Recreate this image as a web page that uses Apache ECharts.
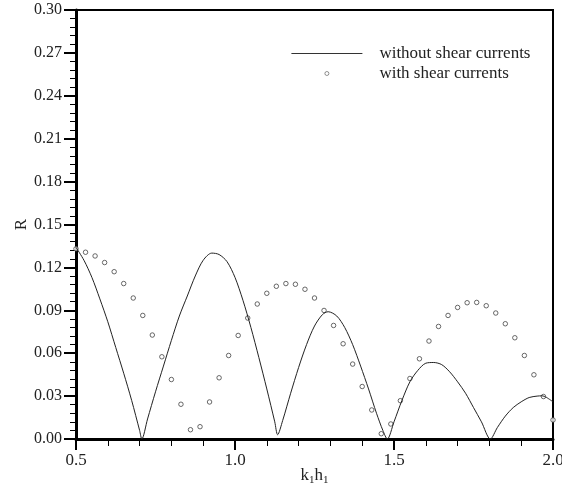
<!DOCTYPE html>
<html>
<head>
<meta charset="utf-8">
<script src="https://cdn.jsdelivr.net/npm/echarts@6/dist/echarts.min.js"></script>
<style>
  html, body { margin: 0; padding: 0; background: #fff; }
  #main { width: 562px; height: 483px; }
</style>
</head>
<body>
<div id="main"></div>
<script>
// without shear currents (solid line)
const lineX = [0.50, 0.525, 0.55, 0.575, 0.60, 0.625, 0.65, 0.675, 0.70, 0.707,
  0.725, 0.75, 0.775, 0.80, 0.825, 0.85, 0.875, 0.90, 0.927, 0.95, 0.975, 1.00,
  1.025, 1.05, 1.075, 1.10, 1.125, 1.134,
  1.15, 1.175, 1.20, 1.225, 1.25, 1.275, 1.293, 1.32, 1.345, 1.37, 1.395, 1.42,
  1.445, 1.465, 1.479,
  1.50, 1.525, 1.55, 1.575, 1.60, 1.625, 1.65, 1.675, 1.70, 1.725, 1.75, 1.775, 1.803,
  1.825, 1.85, 1.875, 1.90, 1.925, 1.95, 1.965, 1.98, 2.00];
const lineR = [0.134, 0.125, 0.113, 0.098, 0.082, 0.064, 0.046, 0.027, 0.006, 0.0,
  0.014, 0.033, 0.051, 0.069, 0.086, 0.100, 0.114, 0.125, 0.130, 0.129, 0.124, 0.113,
  0.097, 0.078, 0.057, 0.035, 0.012, 0.003,
  0.013, 0.032, 0.050, 0.066, 0.079, 0.087, 0.089, 0.086, 0.078, 0.066, 0.051, 0.035,
  0.018, 0.006, 0.0,
  0.012, 0.027, 0.040, 0.048, 0.053, 0.0535, 0.052, 0.047, 0.040, 0.032, 0.022, 0.012, 0.0,
  0.008, 0.016, 0.022, 0.026, 0.029, 0.030, 0.0302, 0.029, 0.026];

// with shear currents (circles)
const dotX = [0.50, 0.53, 0.56, 0.59, 0.62, 0.65, 0.68, 0.71, 0.74, 0.77, 0.80,
  0.83, 0.86, 0.89, 0.92, 0.95, 0.98, 1.01, 1.04, 1.07, 1.10, 1.13, 1.16, 1.19,
  1.22, 1.25, 1.28, 1.31, 1.34, 1.37, 1.40, 1.43, 1.46, 1.49, 1.52, 1.55, 1.58,
  1.61, 1.64, 1.67, 1.70, 1.73, 1.76, 1.79, 1.82, 1.85, 1.88, 1.91, 1.94, 1.97, 2.00];
const dotR = [0.133, 0.1306, 0.128, 0.1234, 0.117, 0.1087, 0.0986, 0.0864, 0.0727,
  0.0575, 0.0416, 0.0243, 0.0065, 0.0086, 0.0259, 0.0428, 0.0584, 0.0724, 0.0846,
  0.0944, 0.1019, 0.1068, 0.1087, 0.1082, 0.1047, 0.0986, 0.0899, 0.0794, 0.0666,
  0.0524, 0.0367, 0.0203, 0.0037, 0.0105, 0.0268, 0.0423, 0.0561, 0.0685, 0.0787,
  0.0864, 0.0920, 0.0953, 0.0955, 0.0932, 0.0881, 0.0806, 0.0708, 0.0584, 0.0449,
  0.0297, 0.0133];

const nameLine = "without shear currents";
const nameDots = "with shear currents";

const font = "'Liberation Serif', 'DejaVu Serif', serif";

const chart = echarts.init(document.getElementById("main"));
chart.setOption({
  animation: false,
  grid: {
    left: 76, right: 9, top: 10, bottom: 44,
    outerBoundsMode: "none",
    containLabel: false,
    show: true, borderColor: "#000", borderWidth: 2
  },
  legend: {
    orient: "vertical",
    left: 286, top: 40,
    itemGap: 3,
    itemWidth: 71, itemHeight: 14,
    textStyle: { fontFamily: font, fontSize: 17, color: "#222", padding: [0, 0, 0, 12] },
    data: [
      {
        name: nameLine,
        icon: "path://M0,6.6L71,6.6L71,7.4L0,7.4Z",
        itemStyle: { color: "#333", borderWidth: 0 }
      },
      {
        name: nameDots,
        icon: "path://M0,0M71,14M37.5,7A2,2,0,1,1,33.5,7A2,2,0,1,1,37.5,7Z",
        itemStyle: { color: "#fff", borderColor: "#555", borderWidth: 0.8 }
      }
    ]
  },
  xAxis: {
    type: "value",
    min: 0.5, max: 2.0, interval: 0.5,
    name: "k{s|1}h{s|1}",
    nameLocation: "middle",
    nameGap: 27,
    nameMoveOverlap: false,
    nameTextStyle: {
      fontFamily: font, fontSize: 17, color: "#222",
      rich: { s: { fontFamily: font, fontSize: 11, verticalAlign: "bottom", padding: [9, 0, 0, 0] } }
    },
    axisLine: { lineStyle: { color: "#000", width: 3 } },
    axisTick: { length: 11, lineStyle: { color: "#000", width: 2 } },
    minorTick: { show: true, splitNumber: 5, length: 7, lineStyle: { color: "#000", width: 1 } },
    splitLine: { show: false },
    axisLabel: {
      margin: 13, fontFamily: font, fontSize: 17, color: "#222",
      formatter: v => v.toFixed(1)
    }
  },
  yAxis: {
    type: "value",
    min: 0, max: 0.30, interval: 0.03,
    name: "R",
    nameLocation: "middle",
    nameRotate: 90,
    nameGap: 46,
    nameMoveOverlap: false,
    nameTextStyle: { fontFamily: font, fontSize: 17, color: "#222" },
    axisLine: { show: true, lineStyle: { color: "#000", width: 3 } },
    axisTick: { show: true, length: 12, lineStyle: { color: "#000", width: 2 } },
    minorTick: { show: true, splitNumber: 5, length: 6, lineStyle: { color: "#000", width: 1 } },
    splitLine: { show: false },
    axisLabel: {
      margin: 14, fontFamily: font, fontSize: 16, color: "#222",
      formatter: v => v.toFixed(2)
    }
  },
  series: [
    {
      name: nameLine,
      type: "line",
      data: lineX.map((x, i) => [x, lineR[i]]),
      symbol: "none",
      smooth: 0.3,
      lineStyle: { color: "#222", width: 1 },
      itemStyle: { color: "#222" }
    },
    {
      name: nameDots,
      type: "scatter",
      data: dotX.map((x, i) => [x, dotR[i]]),
      symbol: "circle",
      symbolSize: 4.5,
      itemStyle: { color: "#fff", borderColor: "#444", borderWidth: 1 }
    }
  ]
});
</script>
</body>
</html>
